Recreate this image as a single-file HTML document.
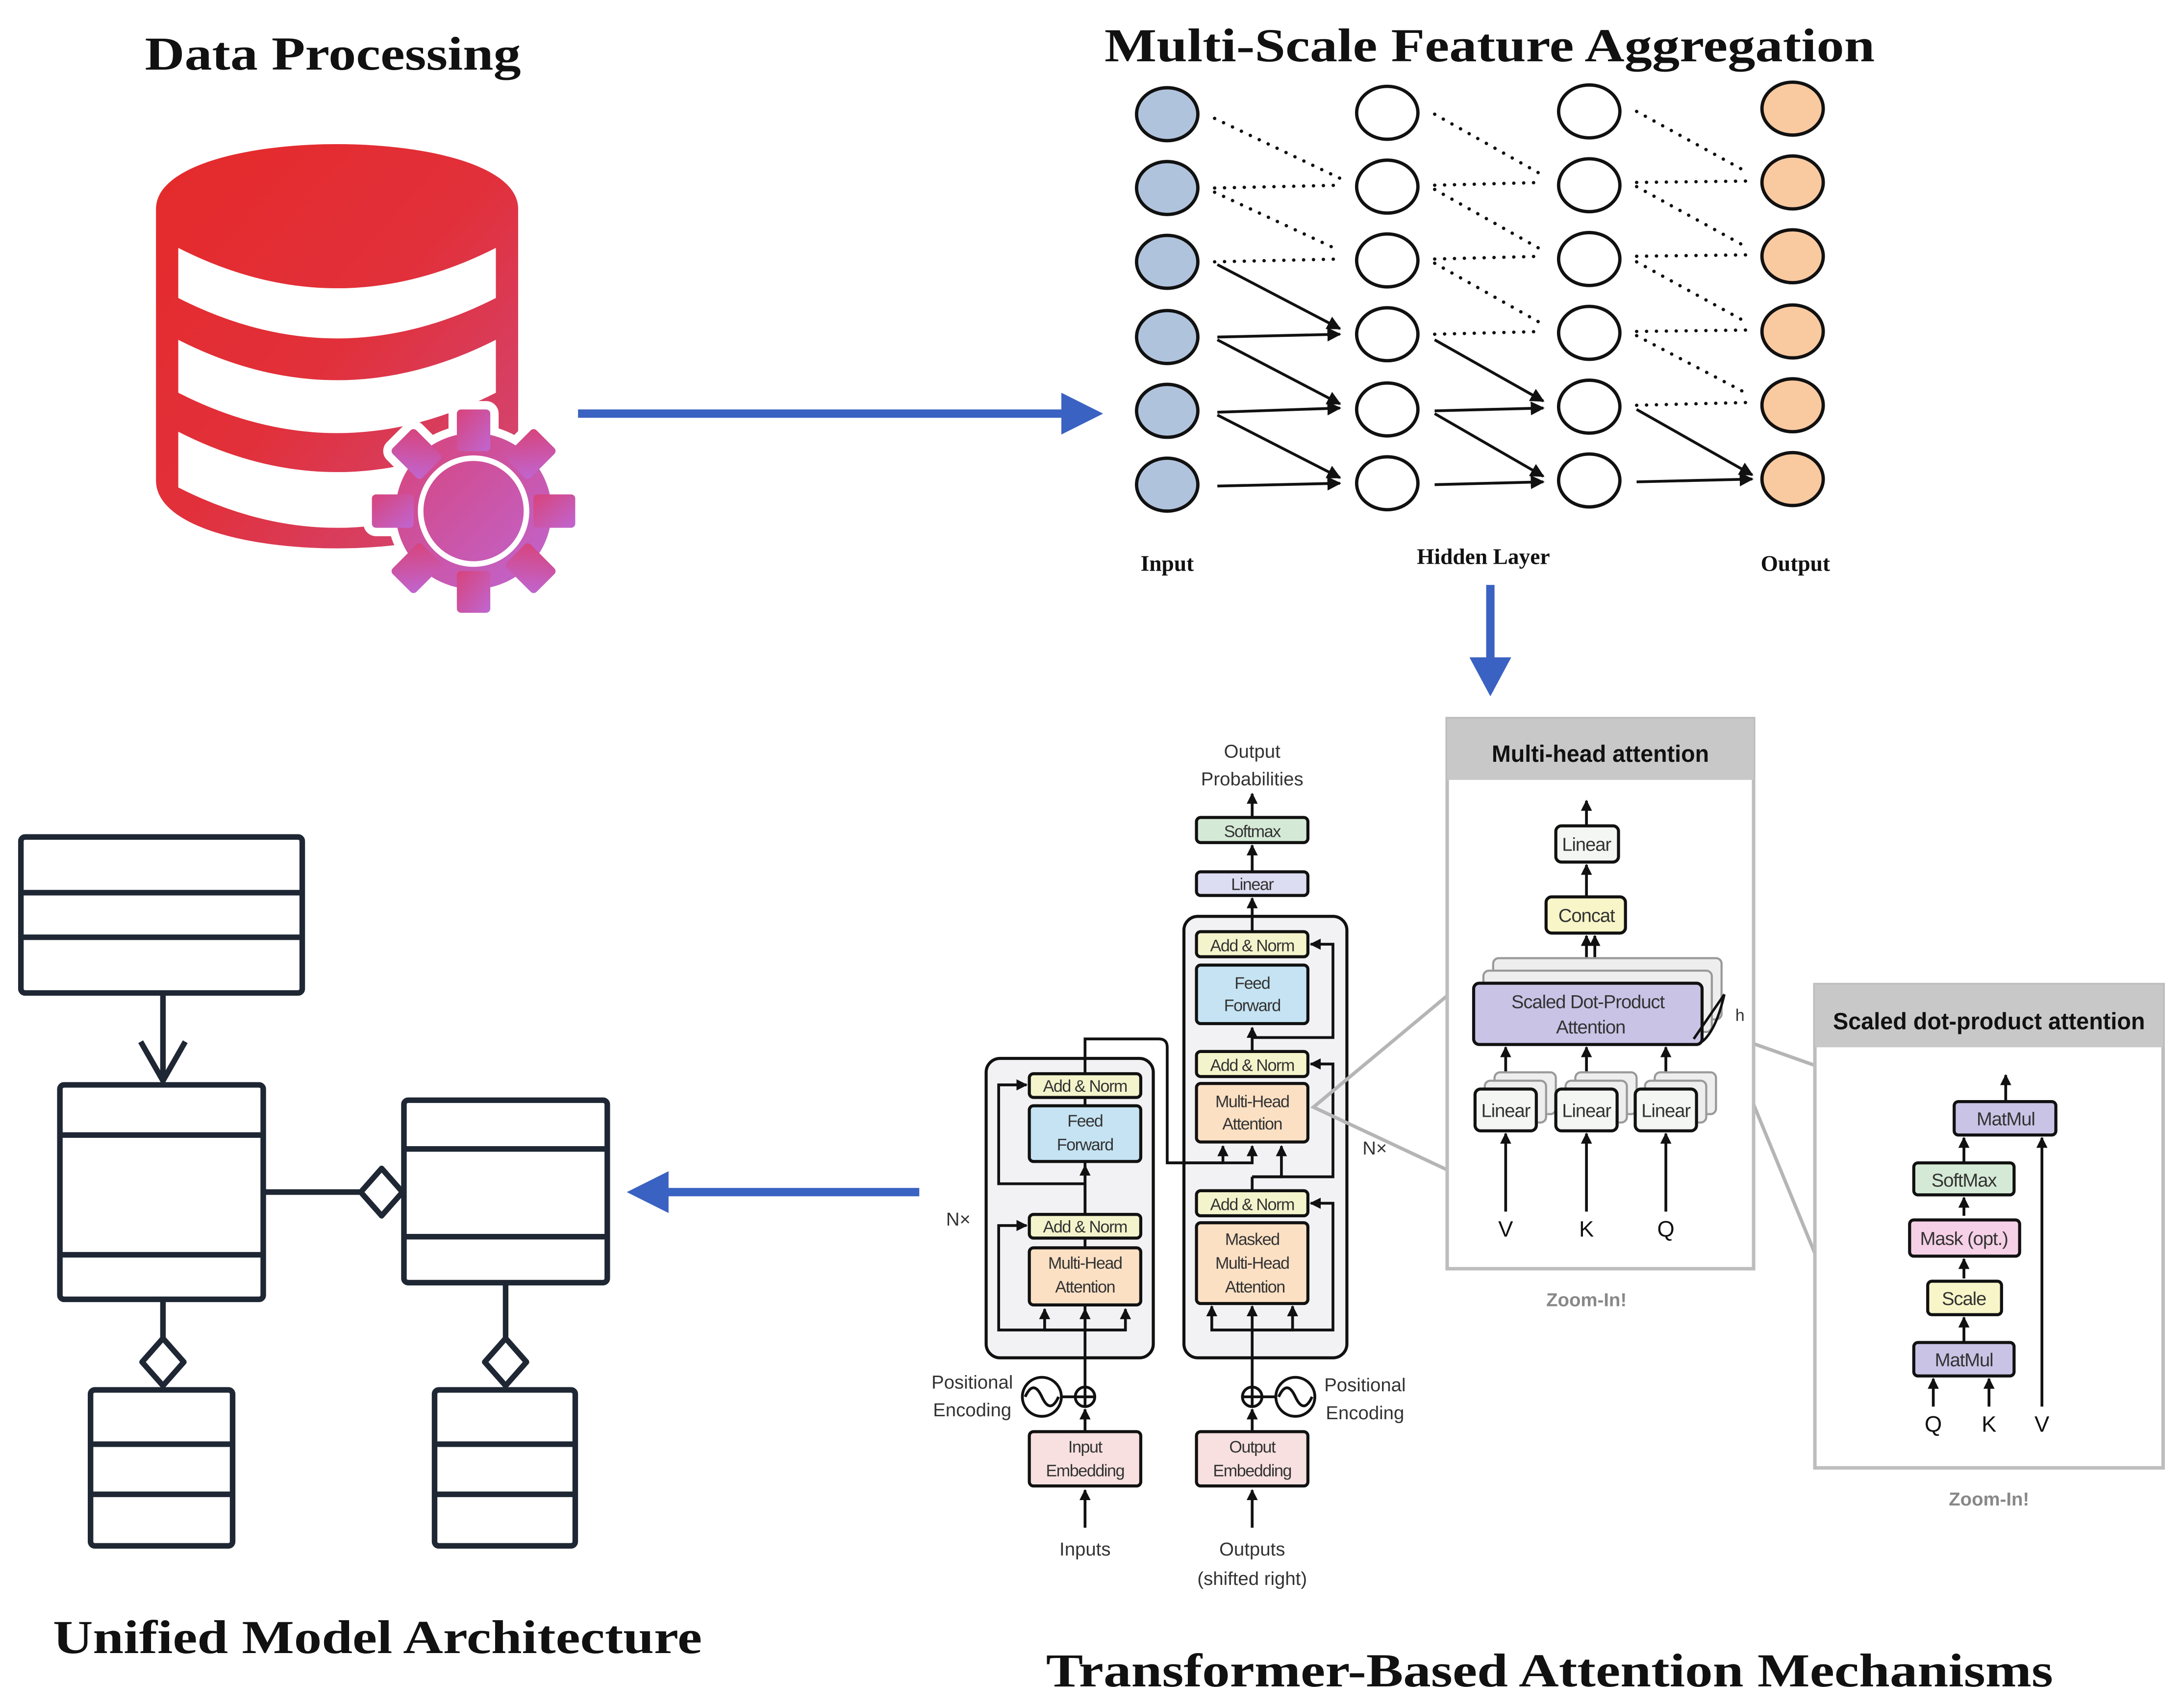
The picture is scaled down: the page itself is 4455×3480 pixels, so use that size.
<!DOCTYPE html>
<html><head><meta charset="utf-8">
<style>
html,body{margin:0;padding:0;background:#fff;}
svg{display:block;}
.t{font-family:"Liberation Serif",serif;font-weight:bold;fill:#111;}
.s{font-family:"Liberation Sans",sans-serif;fill:#333;}
.b{stroke:#111;stroke-width:2.2;}
</style></head>
<body>
<svg width="4455" height="3480" viewBox="0 0 1568 1225" preserveAspectRatio="none" xmlns="http://www.w3.org/2000/svg">
<defs>
<linearGradient id="dbg" x1="0" y1="0" x2="1" y2="1">
<stop offset="0" stop-color="#e52a2a"/><stop offset="0.5" stop-color="#e1303a"/><stop offset="1" stop-color="#d04a80"/></linearGradient>
<linearGradient id="gg" x1="0" y1="0" x2="1" y2="1">
<stop offset="0" stop-color="#d8437a"/><stop offset="1" stop-color="#bf66d2"/></linearGradient>
<marker id="ah" viewBox="0 0 10 10" refX="9" refY="5" markerWidth="5" markerHeight="5" orient="auto"><path d="M0,0 L10,5 L0,10 z" fill="#111"/></marker>
<marker id="as" viewBox="0 0 10 10" refX="9" refY="5" markerWidth="4" markerHeight="4" orient="auto"><path d="M0,0 L10,5 L0,10 z" fill="#111"/></marker>
</defs>

<!-- Titles -->
<text class="t" x="104" y="50" font-size="34" textLength="270" lengthAdjust="spacingAndGlyphs">Data Processing</text>
<text class="t" x="793" y="44" font-size="34" textLength="553" lengthAdjust="spacingAndGlyphs">Multi-Scale Feature Aggregation</text>
<text class="t" x="38" y="1187" font-size="34" textLength="466" lengthAdjust="spacingAndGlyphs">Unified Model Architecture</text>
<text class="t" x="751" y="1211" font-size="34" textLength="723" lengthAdjust="spacingAndGlyphs">Transformer-Based Attention Mechanisms</text>

<!-- Database -->
<path d="M112,150 C112,88 372,88 372,150 L372,345 C372,410 112,410 112,345 Z" fill="url(#dbg)"/>
<path d="M128,178 Q242,236 356,178 L356,214 Q242,272 128,214 Z" fill="#fff"/>
<path d="M128,244 Q242,302 356,244 L356,282 Q242,340 128,282 Z" fill="#fff"/>
<path d="M128,310 Q242,368 356,310 L356,350 Q242,408 128,350 Z" fill="#fff"/>
<!-- gear -->
<g transform="translate(340,367)">
<g fill="#fff" stroke="#fff" stroke-width="12" stroke-linejoin="round">
<circle r="56"/>
<rect x="-12" y="-73" width="24" height="30" rx="3"/><rect x="-12" y="43" width="24" height="30" rx="3"/><rect x="-73" y="-12" width="30" height="24" rx="3"/><rect x="43" y="-12" width="30" height="24" rx="3"/>
<g transform="rotate(45)"><rect x="-12" y="-73" width="24" height="30" rx="3"/><rect x="-12" y="43" width="24" height="30" rx="3"/><rect x="-73" y="-12" width="30" height="24" rx="3"/><rect x="43" y="-12" width="30" height="24" rx="3"/></g>
</g>
<g fill="url(#gg)">
<circle r="56"/>
<rect x="-12" y="-73" width="24" height="30" rx="3"/><rect x="-12" y="43" width="24" height="30" rx="3"/><rect x="-73" y="-12" width="30" height="24" rx="3"/><rect x="43" y="-12" width="30" height="24" rx="3"/>
<g transform="rotate(45)"><rect x="-12" y="-73" width="24" height="30" rx="3"/><rect x="-12" y="43" width="24" height="30" rx="3"/><rect x="-73" y="-12" width="30" height="24" rx="3"/><rect x="43" y="-12" width="30" height="24" rx="3"/></g>
</g>
<circle r="38" fill="none" stroke="#fff" stroke-width="4"/>
</g>

<!-- blue arrows -->
<g fill="#3a62c2" stroke="none">
<rect x="415" y="294" width="350" height="6"/><path d="M762,282 L792,297 L762,312 Z"/>
<rect x="1067" y="420" width="6" height="55"/><path d="M1055,472 L1070,500 L1085,472 Z"/>
<rect x="478" y="853" width="182" height="6"/><path d="M480,841 L450,856 L480,871 Z"/>
</g>

<!-- Neural net -->
<g stroke="#111" stroke-width="2.4" stroke-dasharray="0.1 7" stroke-linecap="round" fill="none">
<line x1="872" y1="85" x2="962" y2="128"/><line x1="872" y1="135" x2="962" y2="133"/><line x1="872" y1="138" x2="962" y2="180"/><line x1="872" y1="188" x2="962" y2="186"/>
<line x1="1030" y1="82" x2="1108" y2="126"/><line x1="1030" y1="133" x2="1108" y2="131"/><line x1="1030" y1="136" x2="1108" y2="180"/><line x1="1030" y1="186" x2="1108" y2="184"/><line x1="1030" y1="189" x2="1108" y2="233"/><line x1="1030" y1="240" x2="1108" y2="238"/>
<line x1="1175" y1="80" x2="1255" y2="124"/><line x1="1175" y1="131" x2="1255" y2="130"/><line x1="1175" y1="134" x2="1255" y2="178"/><line x1="1175" y1="184" x2="1255" y2="183"/><line x1="1175" y1="188" x2="1255" y2="232"/><line x1="1175" y1="238" x2="1255" y2="237"/><line x1="1175" y1="241" x2="1255" y2="283"/><line x1="1175" y1="291" x2="1255" y2="289"/>
</g>
<g stroke="#111" stroke-width="2" fill="none" marker-end="url(#ah)">
<line x1="874" y1="190" x2="962" y2="236"/><line x1="874" y1="242" x2="962" y2="240"/><line x1="874" y1="244" x2="962" y2="290"/><line x1="874" y1="296" x2="962" y2="293"/><line x1="874" y1="298" x2="962" y2="343"/><line x1="874" y1="349" x2="962" y2="347"/>
<line x1="1030" y1="244" x2="1108" y2="288"/><line x1="1030" y1="295" x2="1108" y2="293"/><line x1="1030" y1="297" x2="1108" y2="342"/><line x1="1030" y1="348" x2="1108" y2="346"/>
<line x1="1175" y1="294" x2="1258" y2="341"/><line x1="1175" y1="346" x2="1258" y2="344"/>
</g>
<g stroke="#111" stroke-width="2.4">
<g fill="#b0c3dd"><ellipse cx="838" cy="82" rx="22" ry="19"/><ellipse cx="838" cy="135" rx="22" ry="19"/><ellipse cx="838" cy="188" rx="22" ry="19"/><ellipse cx="838" cy="242" rx="22" ry="19"/><ellipse cx="838" cy="295" rx="22" ry="19"/><ellipse cx="838" cy="348" rx="22" ry="19"/></g>
<g fill="#fff"><ellipse cx="996" cy="81" rx="22" ry="19"/><ellipse cx="996" cy="134" rx="22" ry="19"/><ellipse cx="996" cy="187" rx="22" ry="19"/><ellipse cx="996" cy="240" rx="22" ry="19"/><ellipse cx="996" cy="294" rx="22" ry="19"/><ellipse cx="996" cy="347" rx="22" ry="19"/>
<ellipse cx="1141" cy="80" rx="22" ry="19"/><ellipse cx="1141" cy="133" rx="22" ry="19"/><ellipse cx="1141" cy="186" rx="22" ry="19"/><ellipse cx="1141" cy="239" rx="22" ry="19"/><ellipse cx="1141" cy="292" rx="22" ry="19"/><ellipse cx="1141" cy="345" rx="22" ry="19"/></g>
<g fill="#f9c9a0"><ellipse cx="1287" cy="78" rx="22" ry="19"/><ellipse cx="1287" cy="131" rx="22" ry="19"/><ellipse cx="1287" cy="184" rx="22" ry="19"/><ellipse cx="1287" cy="238" rx="22" ry="19"/><ellipse cx="1287" cy="291" rx="22" ry="19"/><ellipse cx="1287" cy="344" rx="22" ry="19"/></g>
</g>
<g font-family="Liberation Serif,serif" font-size="16" fill="#111" text-anchor="middle" font-weight="bold">
<text x="838" y="410">Input</text><text x="1065" y="405">Hidden Layer</text><text x="1289" y="410">Output</text>
</g>

<!-- UML -->
<g stroke="#1e2733" stroke-width="4" fill="none" stroke-linejoin="round">
<rect x="15" y="601" width="202" height="112" rx="3"/><line x1="15" y1="641" x2="217" y2="641"/><line x1="15" y1="673" x2="217" y2="673"/>
<line x1="117" y1="713" x2="117" y2="776"/><polyline points="101,748 117,776 133,748"/>
<rect x="43" y="779" width="146" height="154" rx="3"/><line x1="43" y1="815" x2="189" y2="815"/><line x1="43" y1="901" x2="189" y2="901"/>
<rect x="290" y="790" width="146" height="131" rx="3"/><line x1="290" y1="825" x2="436" y2="825"/><line x1="290" y1="888" x2="436" y2="888"/>
<line x1="189" y1="856" x2="259" y2="856"/><polygon points="259,856 274,839 289,856 274,873"/>
<line x1="117" y1="933" x2="117" y2="961"/><polygon points="117,961 132,978 117,995 102,978"/>
<line x1="363" y1="921" x2="363" y2="961"/><polygon points="363,961 378,978 363,995 348,978"/>
<rect x="65" y="998" width="102" height="112" rx="3"/><line x1="65" y1="1037" x2="167" y2="1037"/><line x1="65" y1="1073" x2="167" y2="1073"/>
<rect x="312" y="998" width="101" height="112" rx="3"/><line x1="312" y1="1037" x2="413" y2="1037"/><line x1="312" y1="1073" x2="413" y2="1073"/>
</g>

<!-- Transformer -->
<g class="b" fill="#f2f2f4">
<rect x="708" y="760" width="120" height="215" rx="10"/>
<rect x="850" y="658" width="117" height="317" rx="10"/>
</g>
<g class="s" font-size="13.5" text-anchor="middle">
<text x="899" y="544">Output</text><text x="899" y="564">Probabilities</text>
<text x="688" y="880">N×</text><text x="987" y="829">N×</text>
<text x="698" y="997">Positional</text><text x="698" y="1017">Encoding</text>
<text x="980" y="999">Positional</text><text x="980" y="1019">Encoding</text>
<text x="779" y="1117">Inputs</text><text x="899" y="1117">Outputs</text><text x="899" y="1138">(shifted right)</text>
</g>
<g stroke="#111" stroke-width="2" fill="none">
<line x1="779" y1="1097" x2="779" y2="1070" marker-end="url(#as)"/>
<line x1="899" y1="1097" x2="899" y2="1070" marker-end="url(#as)"/>
<line x1="779" y1="1028" x2="779" y2="1012" marker-end="url(#as)"/>
<line x1="899" y1="1028" x2="899" y2="1012" marker-end="url(#as)"/>
<line x1="779" y1="996" x2="779" y2="940" marker-end="url(#as)"/>
<line x1="899" y1="996" x2="899" y2="938" marker-end="url(#as)"/>
<line x1="779" y1="955" x2="779" y2="771"/>
<line x1="779" y1="871" x2="779" y2="837" marker-end="url(#as)"/>
<path d="M779,955 H750 V940" marker-end="url(#as)"/><path d="M779,955 H808 V940" marker-end="url(#as)"/>
<path d="M779,955 H717 V880 H737" marker-end="url(#as)"/>
<path d="M779,850 H717 V779 H737" marker-end="url(#as)"/>
<path d="M779,771 V746 H832 Q838,746 838,752 V835 H878 V823" marker-end="url(#as)"/>
<path d="M838,835 H899 V823" marker-end="url(#as)"/>
<path d="M899,955 H870 V938" marker-end="url(#as)"/><path d="M899,955 H928 V938" marker-end="url(#as)"/>
<path d="M899,955 H957 V864 H941" marker-end="url(#as)"/>
<line x1="899" y1="855" x2="899" y2="845"/>
<path d="M899,845 H920 V823" marker-end="url(#as)"/>
<path d="M899,845 H957 V764 H941" marker-end="url(#as)"/>
<line x1="899" y1="755" x2="899" y2="738" marker-end="url(#as)"/>
<path d="M899,745 H957 V678 H941" marker-end="url(#as)"/>
<line x1="899" y1="669" x2="899" y2="645" marker-end="url(#as)"/>
<line x1="899" y1="626" x2="899" y2="607" marker-end="url(#as)"/>
<line x1="899" y1="587" x2="899" y2="570" marker-end="url(#as)"/>
<circle cx="779" cy="1003" r="7" fill="#fff"/><line x1="772" y1="1003" x2="786" y2="1003"/><line x1="779" y1="996" x2="779" y2="1010"/>
<circle cx="899" cy="1003" r="7" fill="#fff"/><line x1="892" y1="1003" x2="906" y2="1003"/><line x1="899" y1="996" x2="899" y2="1010"/>
<circle cx="748" cy="1003" r="14" fill="#fff"/><path d="M736,1003 Q742,990 748,1003 Q754,1016 760,1003"/><line x1="762" y1="1003" x2="772" y2="1003"/>
<circle cx="930" cy="1003" r="14" fill="#fff"/><path d="M918,1003 Q924,990 930,1003 Q936,1016 942,1003"/><line x1="906" y1="1003" x2="916" y2="1003"/>
</g>
<g class="b">
<rect x="859" y="587" width="80" height="18" rx="3" fill="#d5ead6"/>
<rect x="859" y="626" width="80" height="17" rx="3" fill="#dcdcf2"/>
<rect x="859" y="669" width="80" height="18" rx="3" fill="#f4f4cc"/>
<rect x="859" y="693" width="80" height="42" rx="3" fill="#c5e3f2"/>
<rect x="859" y="755" width="80" height="18" rx="3" fill="#f4f4cc"/>
<rect x="859" y="778" width="80" height="42" rx="3" fill="#fbe0c4"/>
<rect x="859" y="855" width="80" height="18" rx="3" fill="#f4f4cc"/>
<rect x="859" y="878" width="80" height="58" rx="3" fill="#fbe0c4"/>
<rect x="739" y="771" width="80" height="17" rx="3" fill="#f4f4cc"/>
<rect x="739" y="794" width="80" height="40" rx="3" fill="#c5e3f2"/>
<rect x="739" y="872" width="80" height="17" rx="3" fill="#f4f4cc"/>
<rect x="739" y="896" width="80" height="41" rx="3" fill="#fbe0c4"/>
<rect x="739" y="1028" width="80" height="39" rx="3" fill="#f8e0e0"/>
<rect x="859" y="1028" width="80" height="39" rx="3" fill="#f8e0e0"/>
</g>
<g class="s" font-size="12" text-anchor="middle" letter-spacing="-0.5">
<text x="899" y="601">Softmax</text><text x="899" y="639">Linear</text>
<text x="899" y="683">Add &amp; Norm</text><text x="899" y="710">Feed</text><text x="899" y="726">Forward</text>
<text x="899" y="769">Add &amp; Norm</text><text x="899" y="795">Multi-Head</text><text x="899" y="811">Attention</text>
<text x="899" y="869">Add &amp; Norm</text><text x="899" y="894">Masked</text><text x="899" y="911">Multi-Head</text><text x="901" y="928">Attention</text>
<text x="779" y="784">Add &amp; Norm</text><text x="779" y="809">Feed</text><text x="779" y="826">Forward</text>
<text x="779" y="885">Add &amp; Norm</text><text x="779" y="911">Multi-Head</text><text x="779" y="928">Attention</text>
<text x="779" y="1043">Input</text><text x="779" y="1060">Embedding</text>
<text x="899" y="1043">Output</text><text x="899" y="1060">Embedding</text>
</g>

<g stroke="#b5b5b5" stroke-width="2.5" fill="none">
<polyline points="1039,715 943,795 1039,840"/>
<polyline points="1303,765 1238,742 1303,900"/>
</g>

<!-- Multi-head panel -->
<rect x="1039" y="516" width="220" height="395" fill="#fff" stroke="#bdbdbd" stroke-width="2.5"/>
<rect x="1039" y="516" width="220" height="44" fill="#c8c8c8"/>
<text x="1149" y="547" font-family="Liberation Sans,sans-serif" font-weight="bold" font-size="17" text-anchor="middle" fill="#111" textLength="156" lengthAdjust="spacingAndGlyphs">Multi-head attention</text>
<g stroke="#111" stroke-width="2" fill="none">
<line x1="1139" y1="593" x2="1139" y2="575" marker-end="url(#as)"/>
<line x1="1139" y1="644" x2="1139" y2="621" marker-end="url(#as)"/>
<line x1="1139" y1="706" x2="1139" y2="672" marker-end="url(#as)"/>
<line x1="1145" y1="690" x2="1145" y2="672" marker-end="url(#as)"/>
<line x1="1081" y1="870" x2="1081" y2="814" marker-end="url(#as)"/>
<line x1="1139" y1="870" x2="1139" y2="814" marker-end="url(#as)"/>
<line x1="1196" y1="870" x2="1196" y2="814" marker-end="url(#as)"/>
<line x1="1081" y1="782" x2="1081" y2="752" marker-end="url(#as)"/>
<line x1="1139" y1="782" x2="1139" y2="752" marker-end="url(#as)"/>
<line x1="1196" y1="782" x2="1196" y2="752" marker-end="url(#as)"/>
</g>
<g stroke="#999" stroke-width="1.5" fill="#eee">
<rect x="1072" y="688" width="164" height="44" rx="4"/><rect x="1065" y="697" width="164" height="44" rx="4"/>
<rect x="1073" y="770" width="44" height="30" rx="4"/><rect x="1131" y="770" width="44" height="30" rx="4"/><rect x="1188" y="770" width="44" height="30" rx="4"/>
<rect x="1066" y="776" width="44" height="30" rx="4"/><rect x="1124" y="776" width="44" height="30" rx="4"/><rect x="1181" y="776" width="44" height="30" rx="4"/>
</g>
<g class="b" stroke-width="2.4">
<rect x="1117" y="593" width="45" height="26" rx="4" fill="#f3f6f3"/>
<rect x="1110" y="644" width="57" height="26" rx="4" fill="#f8f5c8"/>
<rect x="1058" y="706" width="164" height="44" rx="4" fill="#c9c3e6"/>
<rect x="1059" y="782" width="44" height="30" rx="4" fill="#f3f6f3"/>
<rect x="1117" y="782" width="44" height="30" rx="4" fill="#f3f6f3"/>
<rect x="1174" y="782" width="44" height="30" rx="4" fill="#f3f6f3"/>
</g>
<path d="M1216,746 L1238,714 M1238,714 Q1232,740 1222,748" stroke="#111" stroke-width="1.8" fill="none"/>
<g class="s" font-size="13.5" text-anchor="middle" letter-spacing="-0.4">
<text x="1139" y="611">Linear</text><text x="1139" y="662">Concat</text>
<text x="1140" y="724">Scaled Dot-Product</text><text x="1142" y="742">Attention</text>
<text x="1081" y="802">Linear</text><text x="1139" y="802">Linear</text><text x="1196" y="802">Linear</text>
<text x="1249" y="733" font-size="12">h</text>
</g>
<g font-family="Liberation Sans,sans-serif" font-size="16" fill="#111" text-anchor="middle">
<text x="1081" y="888">V</text><text x="1139" y="888">K</text><text x="1196" y="888">Q</text>
</g>
<text x="1139" y="938" font-family="Liberation Sans,sans-serif" font-weight="bold" font-size="13.5" fill="#888" text-anchor="middle">Zoom-In!</text>

<!-- Scaled dot-product panel -->
<rect x="1303" y="707" width="250" height="347" fill="#fff" stroke="#bdbdbd" stroke-width="2.5"/>
<rect x="1303" y="707" width="250" height="45" fill="#c8c8c8"/>
<text x="1428" y="739" font-family="Liberation Sans,sans-serif" font-weight="bold" font-size="17" text-anchor="middle" fill="#111" textLength="224" lengthAdjust="spacingAndGlyphs">Scaled dot-product attention</text>
<g stroke="#111" stroke-width="2" fill="none">
<line x1="1440" y1="791" x2="1440" y2="772" marker-end="url(#as)"/>
<line x1="1410" y1="835" x2="1410" y2="817" marker-end="url(#as)"/>
<line x1="1410" y1="873" x2="1410" y2="860" marker-end="url(#as)"/>
<line x1="1410" y1="918" x2="1410" y2="904" marker-end="url(#as)"/>
<line x1="1410" y1="963" x2="1410" y2="946" marker-end="url(#as)"/>
<line x1="1388" y1="1010" x2="1388" y2="990" marker-end="url(#as)"/>
<line x1="1428" y1="1010" x2="1428" y2="990" marker-end="url(#as)"/>
<line x1="1466" y1="1010" x2="1466" y2="817" marker-end="url(#as)"/>
</g>
<g class="b" stroke-width="2.4">
<rect x="1403" y="791" width="73" height="24" rx="3" fill="#c9c3e6"/>
<rect x="1374" y="835" width="72" height="23" rx="3" fill="#d5ead6"/>
<rect x="1371" y="876" width="79" height="26" rx="3" fill="#f6d0e6"/>
<rect x="1384" y="920" width="53" height="24" rx="3" fill="#f8f5c8"/>
<rect x="1374" y="964" width="72" height="24" rx="3" fill="#c9c3e6"/>
</g>
<g class="s" font-size="13.5" text-anchor="middle" letter-spacing="-0.4">
<text x="1440" y="808">MatMul</text><text x="1410" y="852">SoftMax</text><text x="1410" y="894">Mask (opt.)</text>
<text x="1410" y="937">Scale</text><text x="1410" y="981">MatMul</text>
</g>
<g font-family="Liberation Sans,sans-serif" font-size="16" fill="#111" text-anchor="middle">
<text x="1388" y="1028">Q</text><text x="1428" y="1028">K</text><text x="1466" y="1028">V</text>
</g>
<text x="1428" y="1081" font-family="Liberation Sans,sans-serif" font-weight="bold" font-size="13.5" fill="#888" text-anchor="middle">Zoom-In!</text>
</svg>
</body></html>
